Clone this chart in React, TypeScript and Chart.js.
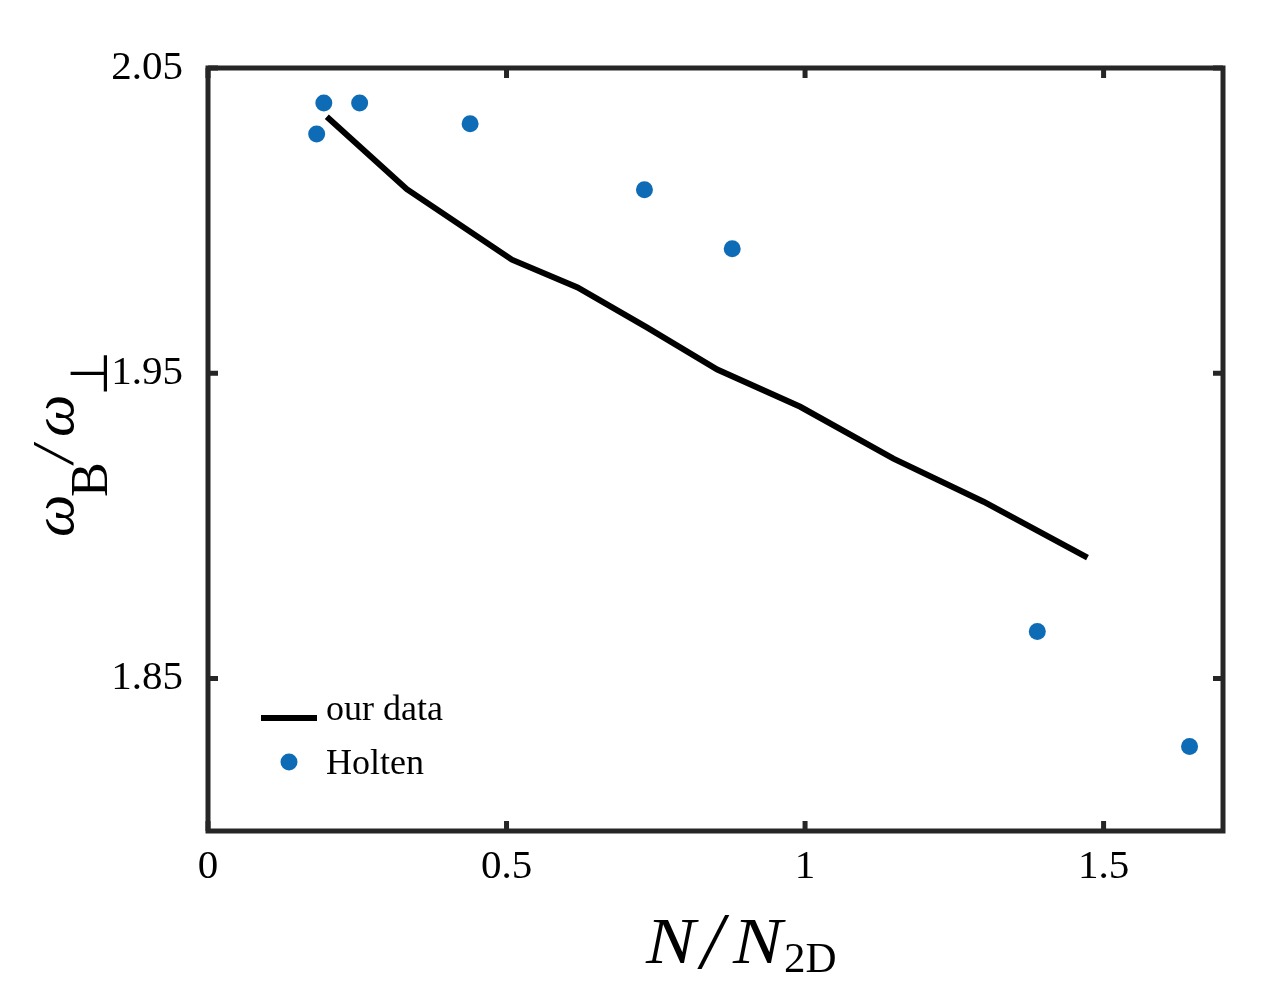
import { useEffect, useRef } from 'react';
import Chart from 'chart.js/auto';

// values
const ourDataX = [0.199, 0.333, 0.509, 0.619, 0.735, 0.853, 0.992, 1.148, 1.299, 1.473];
const ourDataY = [2.034, 2.0103, 1.9872, 1.9781, 1.965, 1.9512, 1.939, 1.922, 1.9079, 1.8896];

const holtenX = [0.182, 0.194, 0.254, 0.439, 0.731, 0.878, 1.389, 1.644];
const holtenY = [2.0284, 2.0385, 2.0385, 2.0317, 2.0101, 1.9908, 1.8654, 1.8277];

const xTicks = [0, 0.5, 1, 1.5];
const yTicks = [1.85, 1.95, 2.05];

const X_MIN = 0;
const X_MAX = 1.7;
const Y_MIN = 1.8;
const Y_MAX = 2.05;

const SERIF = '"Liberation Serif", "Times New Roman", serif';
const AXIS_COLOR = '#262626';
const BLUE = '#0e6bb5';

// frame, inward ticks, legend and the LaTeX-like axis labels
const decorPlugin = {
  id: 'decor',
  afterDraw(chart: any) {
    const { ctx, chartArea } = chart;
    const { left, right, top, bottom } = chartArea;
    const xs = chart.scales.x;
    const ys = chart.scales.y;
    ctx.save();

    // box
    ctx.strokeStyle = AXIS_COLOR;
    ctx.lineWidth = 5;
    ctx.strokeRect(left, top, right - left, bottom - top);

    // ticks pointing inwards on all four sides
    const tl = 10;
    ctx.beginPath();
    xTicks.forEach((v) => {
      const px = xs.getPixelForValue(v);
      ctx.moveTo(px, bottom);
      ctx.lineTo(px, bottom - tl);
      ctx.moveTo(px, top);
      ctx.lineTo(px, top + tl);
    });
    yTicks.forEach((v) => {
      const py = ys.getPixelForValue(v);
      ctx.moveTo(left, py);
      ctx.lineTo(left + tl, py);
      ctx.moveTo(right, py);
      ctx.lineTo(right - tl, py);
    });
    ctx.stroke();

    // legend
    const ds = chart.data.datasets;
    ctx.fillStyle = '#000';
    ctx.textAlign = 'left';
    ctx.textBaseline = 'alphabetic';
    ctx.font = `36px ${SERIF}`;
    ctx.strokeStyle = ds[0].borderColor;
    ctx.lineWidth = 6;
    ctx.beginPath();
    ctx.moveTo(261, 718);
    ctx.lineTo(317, 718);
    ctx.stroke();
    ctx.fillText(ds[0].label, 326, 720);
    ctx.fillStyle = ds[1].backgroundColor;
    ctx.beginPath();
    ctx.arc(289, 762, 8.5, 0, Math.PI * 2);
    ctx.fill();
    ctx.fillStyle = '#000';
    ctx.fillText(ds[1].label, 326, 774);

    // x label: N/N_2D
    const xParts: [string, string, number, number, number][] = [
      ['N', 'italic', 66, 646, 963],
      ['/', 'italic', 80, 701, 968],
      ['N', 'italic', 66, 733, 963],
      ['2D', 'normal', 43, 784, 972],
    ];
    xParts.forEach(([t, style, size, x, y]) => {
      ctx.font = `${style} ${size}px ${SERIF}`;
      ctx.save();
      ctx.translate(x, y);
      ctx.scale(t === 'N' ? 1.12 : 1, 1);
      ctx.fillText(t, 0, 0);
      ctx.restore();
    });

    // y label: omega_B / omega_perp, rotated
    ctx.save();
    ctx.translate(73, 537);
    ctx.rotate(-Math.PI / 2);
    const yParts: [string, string, number, number, number][] = [
      ['ω', 'italic', 60, 0, 0],
      ['B', 'normal', 52, 40, 34],
      ['/', 'italic', 60, 74, 0],
      ['ω', 'italic', 60, 100, 0],
      ['⊥', 'normal', 52, 141, 34],
    ];
    yParts.forEach(([t, style, size, x, y]) => {
      ctx.font = `${style} ${size}px ${SERIF}`;
      ctx.fillText(t, x, y);
    });
    ctx.restore();

    ctx.restore();
  },
};

export default function App() {
  const canvasRef = useRef<HTMLCanvasElement>(null);

  useEffect(() => {
    if (!canvasRef.current) return;
    const chart = new Chart(canvasRef.current, {
      type: 'scatter',
      data: {
        datasets: [
          {
            label: 'our data',
            data: ourDataX.map((x, i) => ({ x, y: ourDataY[i] })),
            showLine: true,
            borderColor: '#000',
            borderWidth: 6,
            pointRadius: 0,
            tension: 0,
          },
          {
            label: 'Holten',
            data: holtenX.map((x, i) => ({ x, y: holtenY[i] })),
            showLine: false,
            backgroundColor: BLUE,
            borderWidth: 0,
            pointRadius: 8.5,
          },
        ],
      },
      options: {
        animation: false,
        responsive: true,
        maintainAspectRatio: false,
        layout: { padding: { top: 68, right: 40, left: 0, bottom: 0 } },
        plugins: {
          legend: { display: false },
          tooltip: { enabled: false },
        },
        scales: {
          x: {
            type: 'linear',
            min: X_MIN,
            max: X_MAX,
            afterBuildTicks: (scale: any) => {
              scale.ticks = xTicks.map((value) => ({ value }));
            },
            afterFit: (scale: any) => {
              scale.height = 176;
            },
            grid: { display: false, drawTicks: false },
            border: { display: false },
            ticks: {
              padding: 12,
              color: '#000',
              font: { family: SERIF, size: 41 },
              maxRotation: 0,
              callback: (v: any) => String(v),
            },
          },
          y: {
            type: 'linear',
            min: Y_MIN,
            max: Y_MAX,
            afterBuildTicks: (scale: any) => {
              scale.ticks = yTicks.map((value) => ({ value }));
            },
            afterFit: (scale: any) => {
              scale.width = 208;
            },
            grid: { display: false, drawTicks: false },
            border: { display: false },
            ticks: {
              padding: 25,
              color: '#000',
              font: { family: SERIF, size: 41 },
              callback: (v: any) => String(v),
            },
          },
        },
      },
      plugins: [decorPlugin],
    });
    return () => chart.destroy();
  }, []);

  return (
    <div style={{ position: 'fixed', left: 0, top: 0, width: 1263, height: 1007, background: '#fff' }}>
      <canvas ref={canvasRef} />
    </div>
  );
}
